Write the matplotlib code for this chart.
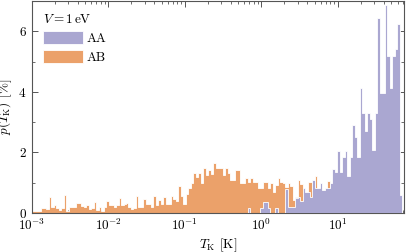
import numpy as np
import matplotlib
matplotlib.use("Agg")
import matplotlib.pyplot as plt

plt.rcParams['font.family'] = 'serif'
plt.rcParams['font.serif'] = ['cmr10']
plt.rcParams['mathtext.fontset'] = 'cm'
plt.rcParams['axes.formatter.use_mathtext'] = True
plt.rcParams['axes.unicode_minus'] = False

# histogram bins: 150 log-spaced bins from 1e-3 K to ~74 K
t_min = 1e-3
t_max = 74.0
n_bins = 150

# percentage per bin, stacking AB
ab_values = [
    0.05, 0.05, 0.05, 0.05, 0.18, 0.18, 0.12, 0.52, 0.20, 0.25,
    0.15, 0.10, 0.18, 0.58, 0.08, 0.19, 0.20, 0.20, 0.32, 0.32,
    0.22, 0.19, 0.25, 0.12, 0.15, 0.37, 0.10, 0.19, 0.08, 0.20,
    0.40, 0.25, 0.25, 0.20, 0.28, 0.48, 0.25, 0.30, 0.32, 0.19,
    0.12, 0.15, 0.56, 0.19, 0.20, 0.45, 0.30, 0.30, 0.20, 0.56,
    0.25, 0.42, 0.30, 0.52, 0.30, 0.30, 0.56, 0.45, 0.40, 0.89,
    0.56, 0.30, 0.62, 0.81, 1.00, 1.31, 1.18, 1.31, 1.00, 1.47,
    1.25, 1.42, 1.30, 1.64, 1.47, 1.50, 1.50, 1.25, 1.47, 1.31,
    1.10, 1.10, 1.42, 1.42, 0.98, 1.00, 1.14, 1.03, 1.14, 1.03,
    1.03, 0.81, 0.81, 1.03, 1.03, 0.81, 0.98, 0.70, 0.92, 1.14,
    1.03, 0.98, 0.87, 0.98, 0.89, 0.43, 0.54, 1.09, 0.95, 0.81,
    0.54, 1.03, 1.03, 0.76, 1.22, 0.81, 0.15, 0.76, 0.30, 1.05,
    0, 0, 0, 0, 0, 0, 0, 0, 0, 0,
    0, 0, 0, 0, 0, 0, 0, 0, 0, 0,
    0, 0, 0, 0, 0, 0, 0, 0, 0, 0,
]

aa_values = [0.0] * 87 + [
    0.15, 0, 0, 0, 0, 0.15, 0.37, 0.37, 0.15, 0,
    0, 0.15, 0, 0, 0, 0.80, 0.20, 0.20, 0.20, 0.48,
    0.54, 0.40, 0.81, 0.70, 0.70, 0.54, 1.09, 0.81, 0.81, 1.00,
    0.76, 0.81, 0.81, 1.00, 1.44, 1.36, 2.05, 1.36, 1.86, 2.05,
    1.23, 1.86, 2.90, 2.50, 1.86, 4.14, 3.30, 2.70, 3.30, 3.10,
    2.07, 3.30, 6.45, 3.95, 3.95, 6.86, 5.20, 4.14, 5.20, 5.40,
    6.23, 0.60, 0,
]

labels = ['AA', 'AB']
colors = {'AA': '#aaa7d1', 'AB': '#eba16a'}

edges = np.logspace(np.log10(t_min), np.log10(t_max), n_bins + 1)

fig = plt.figure(figsize=(4.07, 2.52), dpi=100)
ax = fig.add_axes([31.5 / 407, 39 / 252, 373 / 407, 212 / 252])

h_ab = ax.stairs(ab_values, edges, fill=True, facecolor=colors['AB'],
                 edgecolor='white', linewidth=0.6, label='AB', zorder=2)
h_aa = ax.stairs(aa_values, edges, fill=True, facecolor=colors['AA'],
                 edgecolor='white', linewidth=0.6, label='AA', zorder=3)

ax.set_xscale('log')
ax.set_xlim(t_min, t_max)
ax.set_ylim(0, 7)
ax.set_yticks([0, 2, 4, 6])
ax.set_yticks([1, 3, 5], minor=True)
ax.set_xticks([1e-3, 1e-2, 1e-1, 1e0, 1e1])

for s in ax.spines.values():
    s.set_color('#555555')
    s.set_linewidth(0.8)
ax.tick_params(which='both', direction='in', top=True, right=True,
               colors='#555555', labelcolor='black', labelsize=9.5)
ax.tick_params(which='major', length=4, width=0.7)
ax.tick_params(which='minor', length=2.2, width=0.6)

ax.set_xlabel(r'$T_\mathrm{K}$ [K]', fontsize=9.5, labelpad=2)
ax.set_ylabel(r'$p(T_\mathrm{K})$ [%]', fontsize=9.5, labelpad=3)

leg = ax.legend([h_aa, h_ab], labels, loc='upper left',
                title=r'$V = 1\,\mathrm{eV}$', frameon=False, fontsize=9.5,
                title_fontsize=9.5, handlelength=3.0, handleheight=1.1,
                handletextpad=0.3, labelspacing=0.4, borderaxespad=0.5)
leg._legend_box.align = 'left'

fig.savefig('out.png', dpi=100)
